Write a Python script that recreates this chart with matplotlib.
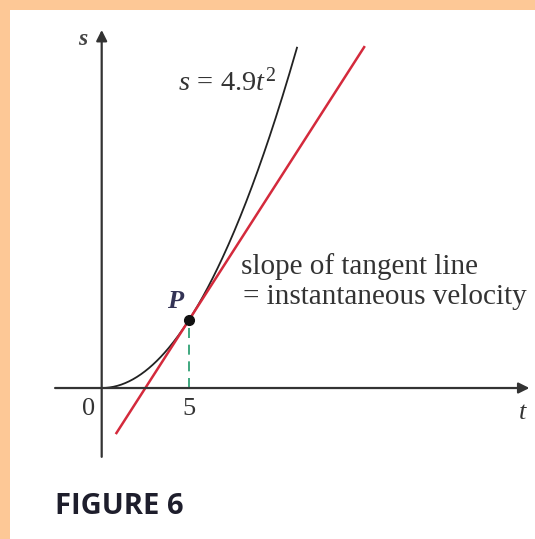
import numpy as np
import matplotlib
matplotlib.use("Agg")
import matplotlib.pyplot as plt
from matplotlib.patches import Rectangle

plt.rcParams['mathtext.fontset'] = 'custom'
plt.rcParams['mathtext.rm'] = 'Liberation Serif'
plt.rcParams['mathtext.it'] = 'Liberation Serif:italic'

# position function s = 4.9 t^2 and the point P where the tangent touches
coef = 4.9
t_p = 5
t_curve = np.linspace(0, 11.2, 200)
s_curve = coef * t_curve ** 2
s_p = coef * t_p ** 2
slope_p = 2 * coef * t_p          # instantaneous velocity at t = 5
s_tangent_ends = [-83, 616]
tick_labels = ["0", "5"]

fig = plt.figure(figsize=(5.35, 5.39), dpi=100)
fig.patch.set_facecolor('#fdc896')
fig.add_artist(Rectangle((10 / 535, 0), 1, 1 - 10 / 539, transform=fig.transFigure,
                         facecolor='white', edgecolor='none', zorder=0))

ax = fig.add_axes([0, 0, 1, 1])
ax.set_facecolor('none')
ax.set_xlim(-5.825, 24.82)
ax.set_ylim(-272.0, 699.0)
ax.axis('off')

# coordinate axes with arrowheads
arrow = dict(arrowstyle='-|>', color='#333333', lw=1.6, mutation_scale=16,
             shrinkA=0, shrinkB=0)
ax.annotate('', xy=(24.5, 0), xytext=(-2.67, 0), arrowprops=arrow)
ax.annotate('', xy=(0, 645), xytext=(0, -124), arrowprops=arrow)

# curve and tangent line
ax.plot(t_curve, s_curve, color='#222222', lw=1.3, solid_capstyle='butt')
s_tan = np.array(s_tangent_ends)
t_tan = t_p + (s_tan - s_p) / slope_p
ax.plot(t_tan, s_tan, color='#d42a3c', lw=1.8, solid_capstyle='butt')

# point P and its drop line to the t-axis
ax.plot([t_p, t_p], [0, s_p], color='#1f9a6a', lw=1.2, ls=(0, (6, 4)))
ax.plot(t_p, s_p, 'o', color='#111111', ms=7, zorder=5)

serif = 'Liberation Serif'
fs = 19
ax.text(-1.07, 627, 's', fontsize=17, family=serif, style='italic', weight='bold',
        color='#444444', ha='center', va='center')
ax.text(24.1, -45, 't', fontsize=fs, family=serif, style='italic', color='#333333',
        ha='center', va='center')
ax.text(-0.78, -37, tick_labels[0], fontsize=fs, family=serif, color='#333333',
        ha='center', va='center')
ax.text(t_p, -37, tick_labels[1], fontsize=fs, family=serif, color='#333333',
        ha='center', va='center')
ax.text(7.2, 551, r'$s\,=\,4.9t^2$', fontsize=20.5, color='#333333',
        ha='center', va='center')
ax.text(4.2, 155, 'P', fontsize=fs, family=serif, style='italic', weight='bold',
        color='#333355', ha='center', va='center')
ax.text(7.98, 218, 'slope of tangent line', fontsize=21, family=serif,
        color='#333333', ha='left', va='center')
ax.text(8.1, 164, '= instantaneous velocity', fontsize=21, family=serif,
        color='#333333', ha='left', va='center')

fig.text(55 / 535, 1 - 507 / 539, 'FIGURE 6', fontsize=21, family='Open Sans',
         weight='bold', color='#1e1e2c', ha='left', va='center')

fig.savefig('out.png', dpi=100, facecolor=fig.get_facecolor())
